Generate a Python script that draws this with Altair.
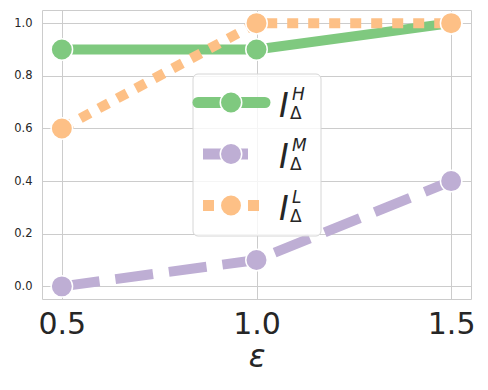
import altair as alt
import pandas as pd

eps = [0.5, 1.0, 1.5]
high = [0.9, 0.9, 1.0]
mid = [0.0, 0.1, 0.4]
low = [0.6, 1.0, 1.0]

series_names = ["H", "M", "L"]
series_values = [high, mid, low]
colors = ["#7fc97f", "#beaed4", "#fdc086"]
dashes = [[1, 0], [38, 16], [11, 10]]

x_ticks = [0.5, 1.0, 1.5]
y_ticks = [0.0, 0.2, 0.4, 0.6, 0.8, 1.0]

FONT = "DejaVu Sans"
W, H = 429, 289

xs = alt.Scale(domain=[0.449, 1.551], nice=False, zero=False)
ys = alt.Scale(domain=[-0.048, 1.05], nice=False, zero=False)

layers = []
for name, vals, col, dash in zip(series_names, series_values, colors, dashes):
    df = pd.DataFrame({"eps": eps, "val": vals, "s": name})
    base = alt.Chart(df).encode(
        x=alt.X("eps:Q", scale=xs, title="ε",
                axis=alt.Axis(values=x_ticks, format=".1f", labelFontSize=30,
                              titleFontSize=31, labelPadding=10, titlePadding=3,
                              titleFontStyle="italic", titleFontWeight="normal")),
        y=alt.Y("val:Q", scale=ys, title=None,
                axis=alt.Axis(values=y_ticks, format=".1f", labelFontSize=11.5,
                              labelPadding=10)),
    )
    line_kwargs = dict(color=col, strokeWidth=10, strokeCap="butt")
    if name != "H":
        line_kwargs["strokeDash"] = dash
    layers.append(base.mark_line(**line_kwargs))
    layers.append(base.mark_point(filled=True, size=460, color=col, stroke="white",
                                  strokeWidth=1.5, opacity=1))

one = pd.DataFrame({"k": [0]})
legend_layers = [
    alt.Chart(one).mark_rect(fill="white", fillOpacity=0.8, stroke="#d6d6d6",
                             strokeWidth=1, cornerRadius=5).encode(
        x=alt.value(151), x2=alt.value(279), y=alt.value(64), y2=alt.value(226))
]
row_y = [92.5, 144, 195.5]
handle = [(156, 223), (161, 206), (161, 217)]
for i, (name, col) in enumerate(zip(series_names, colors)):
    cy = row_y[i]
    x0, x1 = handle[i]
    rk = dict(color=col, strokeWidth=11, strokeCap="round" if name == "H" else "butt")
    if name == "L":
        rk["strokeDash"] = [11, 34]
    legend_layers.append(alt.Chart(one).mark_rule(**rk).encode(
        x=alt.value(x0), x2=alt.value(x1), y=alt.value(cy)))
    legend_layers.append(alt.Chart(one).mark_point(filled=True, size=460, color=col,
                                                   stroke="white", strokeWidth=1.5,
                                                   opacity=1).encode(
        x=alt.value(189), y=alt.value(cy)))
    legend_layers.append(alt.Chart(one).mark_text(
        text="I", font=FONT, fontSize=33, fontStyle="italic", align="left",
        baseline="alphabetic", color="#262626").encode(
        x=alt.value(237), y=alt.value(cy + 14)))
    legend_layers.append(alt.Chart(one).mark_text(
        text=name, font=FONT, fontSize=17, fontStyle="italic", align="left",
        baseline="alphabetic", color="#262626").encode(
        x=alt.value(250), y=alt.value(cy - 3)))
    legend_layers.append(alt.Chart(one).mark_text(
        text="Δ", font=FONT, fontSize=17, align="left",
        baseline="alphabetic", color="#262626").encode(
        x=alt.value(248), y=alt.value(cy + 16)))

chart = alt.layer(*layers, *legend_layers).properties(
    width=W, height=H,
    autosize=alt.AutoSizeParams(type="none"),
    padding={"left": 34, "top": 2, "right": 9, "bottom": 85},
).configure_view(
    stroke="#cccccc", strokeWidth=1
).configure_axis(
    grid=True, gridColor="#cccccc", gridWidth=1, domain=False, ticks=False,
    labelFont=FONT, titleFont=FONT, labelColor="#262626", titleColor="#262626"
)

chart.save("out.html", embed_options={"renderer": "svg", "actions": False})
